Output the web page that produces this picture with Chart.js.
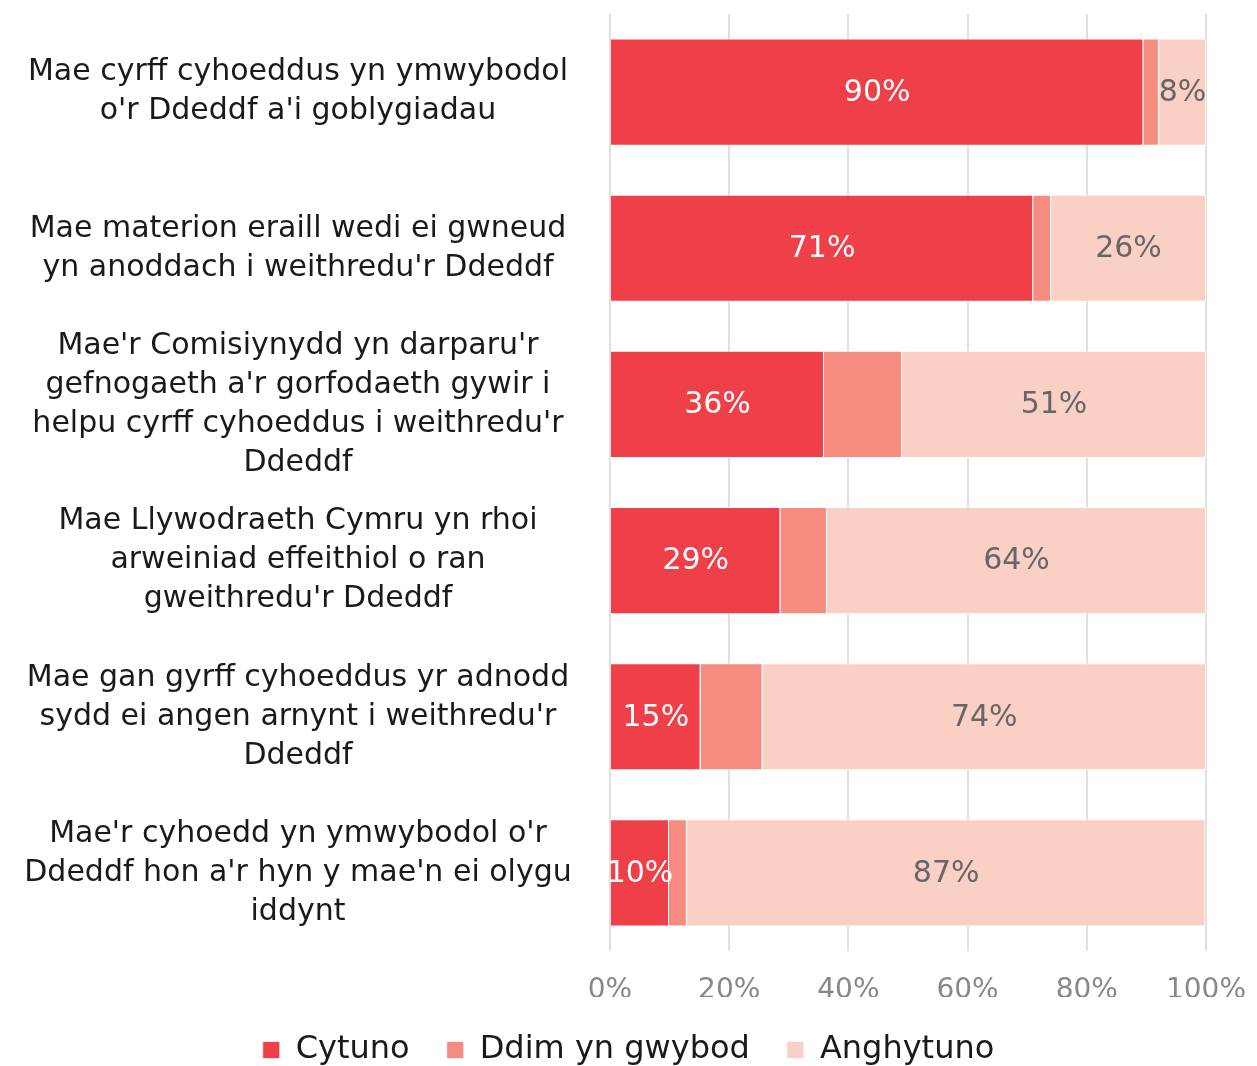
<!DOCTYPE html>
<html>
<head>
<meta charset="utf-8">
<script src="https://cdn.jsdelivr.net/npm/chart.js@4/dist/chart.umd.min.js"></script>
<style>
  html, body { margin: 0; padding: 0; background: #fff; overflow: hidden; }
  #wrap { position: relative; width: 1257px; height: 1076px; }
</style>
</head>
<body>
<div id="wrap"><canvas id="c"></canvas></div>
<script>
const categories = [
  ["Mae cyrff cyhoeddus yn ymwybodol", "o'r Ddeddf a'i goblygiadau"],
  ["Mae materion eraill wedi ei gwneud", "yn anoddach i weithredu'r Ddeddf"],
  ["Mae'r Comisiynydd yn darparu'r", "gefnogaeth a'r gorfodaeth gywir i", "helpu cyrff cyhoeddus i weithredu'r", "Ddeddf"],
  ["Mae Llywodraeth Cymru yn rhoi", "arweiniad effeithiol o ran", "gweithredu'r Ddeddf"],
  ["Mae gan gyrff cyhoeddus yr adnodd", "sydd ei angen arnynt i weithredu'r", "Ddeddf"],
  ["Mae'r cyhoedd yn ymwybodol o'r", "Ddeddf hon a'r hyn y mae'n ei olygu", "iddynt"]
];
const seriesNames = ["Cytuno", "Ddim yn gwybod", "Anghytuno"];
const cytuno = [89.5, 71, 35.9, 28.6, 15.2, 9.9];
const ddimYnGwybod = [2.6, 3, 13.1, 7.8, 10.4, 3];
const anghytuno = [7.9, 26, 51, 63.6, 74.4, 87];
const xTicks = [0, 20, 40, 60, 80, 100];

const FONT = "'DejaVu Sans', sans-serif";
const colors = ['#EF404A', '#F58C7F', '#FACFC4'];
const CAT_SIZE = 30;

const segLabels = {
  id: 'segLabels',
  afterDatasetsDraw(chart) {
    const ctx = chart.ctx;
    ctx.save();
    ctx.font = "30px " + FONT;
    ctx.textAlign = 'center';
    ctx.textBaseline = 'middle';
    chart.data.datasets.forEach((ds, di) => {
      if (!ds.labelColor) return;
      const meta = chart.getDatasetMeta(di);
      meta.data.forEach((bar, i) => {
        const p = bar.getProps(['x', 'base', 'y'], true);
        ctx.fillStyle = ds.labelColor;
        ctx.fillText(Math.round(ds.data[i]) + '%', (p.x + p.base) / 2, p.y + 1);
      });
    });
    ctx.restore();
  }
};

const mctx = document.createElement('canvas').getContext('2d');
mctx.font = CAT_SIZE + "px " + FONT;
let widest = 0;
categories.forEach(l => l.forEach(s => { widest = Math.max(widest, mctx.measureText(s).width); }));
const yPad = Math.max(4, 312 - widest / 2);

new Chart(document.getElementById('c'), {
  type: 'bar',
  data: {
    labels: categories,
    datasets: [
      { label: seriesNames[0], data: cytuno, backgroundColor: colors[0], labelColor: '#ffffff' },
      { label: seriesNames[1], data: ddimYnGwybod, backgroundColor: colors[1] },
      { label: seriesNames[2], data: anghytuno, backgroundColor: colors[2], labelColor: '#666666' }
    ].map(d => Object.assign(d, { borderColor: 'rgba(255,255,255,0.7)', borderWidth: 1, barPercentage: 0.686, categoryPercentage: 1 }))
  },
  options: {
    indexAxis: 'y',
    responsive: true,
    maintainAspectRatio: false,
    animation: false,
    layout: { padding: { top: 14, left: 0, right: 0, bottom: 0 } },
    scales: {
      x: {
        stacked: true,
        min: 0, max: 100,
        afterBuildTicks: (s) => { s.ticks = xTicks.map(v => ({ value: v })); },
        ticks: { color: '#888888', font: { family: FONT, size: 28 }, padding: 23, callback: v => v + '%' },
        grid: { color: '#E0E0E0', lineWidth: 2, drawTicks: false },
        border: { display: false },
        afterFit: (s) => { s.paddingRight = 51; s.paddingLeft = 0; s.height = 46; }
      },
      y: {
        stacked: true,
        afterFit: (s) => { s.width = 610; s.paddingTop = 0; s.paddingBottom = 0; },
        ticks: { autoSkip: false, color: '#1a1a1a', crossAlign: 'center', padding: yPad, font: { family: FONT, size: CAT_SIZE, lineHeight: 1.3 } },
        grid: { display: false, drawTicks: false },
        border: { display: false }
      }
    },
    plugins: {
      legend: {
        position: 'bottom',
        labels: { color: '#1a1a1a', font: { family: FONT, size: 32 }, boxWidth: 17, boxHeight: 17, padding: 37 }
      },
      tooltip: { enabled: false }
    }
  },
  plugins: [segLabels]
});
</script>
</body>
</html>
